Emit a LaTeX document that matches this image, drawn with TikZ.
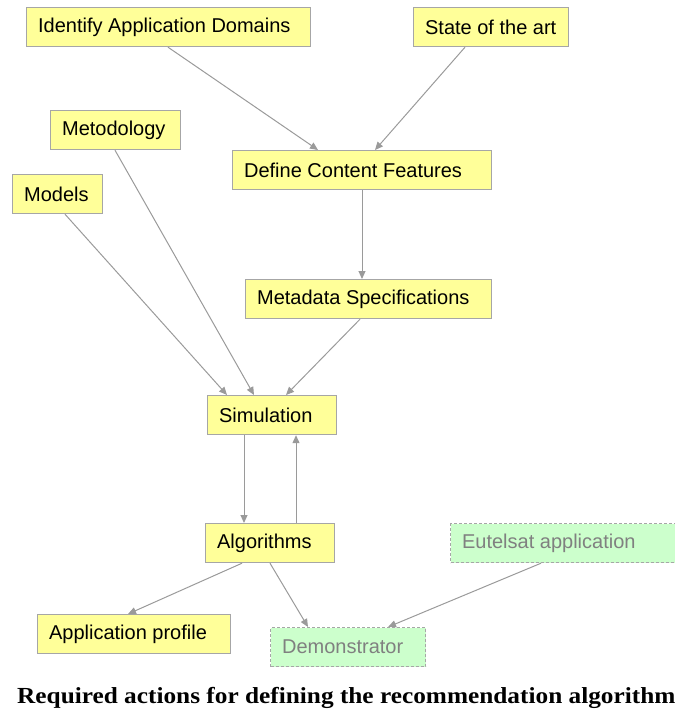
\documentclass[tikz,border=0pt]{standalone}
\usepackage{fontspec}
\setmainfont{Liberation Sans}
\newfontfamily\capfont{Liberation Serif}
\usetikzlibrary{arrows.meta}
\definecolor{boxfill}{HTML}{FFFF99}
\definecolor{boxline}{HTML}{A6A6A6}
\definecolor{grnfill}{HTML}{CCFFCC}
\definecolor{grntext}{HTML}{808080}
\definecolor{arr}{HTML}{9A9A9A}
\newcommand{\bx}[2]{\makebox[#1][l]{#2}}
\tikzset{
  ybox/.style={draw=boxline, line width=1.2pt, fill=boxfill, anchor=north west,
    minimum height=39pt, inner xsep=11.5pt, inner ysep=0pt,
    font=\fontsize{20}{24}\selectfont, text=black},
  gbox/.style={ybox, draw=boxline, dashed, dash pattern=on 3pt off 2pt, fill=grnfill, text=grntext},
  conn/.style={draw=arr, line width=1pt, -{Triangle[length=8pt,width=7pt]}}
}
\begin{document}
\begin{tikzpicture}[x=1pt,y=-1pt]
\useasboundingbox (0,0) rectangle (674,711);
\node[ybox] (ident) at (26,7) {\bx{261pt}{Identify Application Domains}};
\node[ybox] (state) at (413,7) {\bx{132pt}{State of the art}};
\node[ybox] (metod) at (50,110) {\bx{107pt}{Metodology}};
\node[ybox] (define) at (232,150) {\bx{236pt}{Define Content Features}};
\node[ybox] (models) at (12,174) {\bx{67pt}{Models}};
\node[ybox] (meta) at (245,279) {\bx{223pt}{Metadata Specifications}};
\node[ybox] (sim) at (207,395) {\bx{106pt}{Simulation}};
\node[ybox] (algo) at (205,523) {\bx{106pt}{Algorithms}};
\node[gbox] (eut) at (450,523) {\bx{203pt}{Eutelsat application}};
\node[ybox] (prof) at (37,614) {\bx{170pt}{Application profile}};
\node[gbox] (demo) at (270,627) {\bx{132pt}{Demonstrator}};

\draw[conn] ([xshift=142pt]ident.south west) -- ([xshift=86pt]define.north west);
\draw[conn] ([xshift=52pt]state.south west) -- ([xshift=143pt]define.north west);
\draw[conn] ([xshift=130pt]define.south west) -- ([xshift=117pt]meta.north west);
\draw[conn] ([xshift=53pt]models.south west) -- ([xshift=20pt]sim.north west);
\draw[conn] ([xshift=65pt]metod.south west) -- ([xshift=47pt]sim.north west);
\draw[conn] ([xshift=115pt]meta.south west) -- ([xshift=79pt]sim.north west);
\draw[conn] ([xshift=37pt]sim.south west) -- ([xshift=39pt]algo.north west);
\draw[conn] ([xshift=91pt]algo.north west) -- ([xshift=89pt]sim.south west);
\draw[conn] ([xshift=37pt]algo.south west) -- ([xshift=91pt]prof.north west);
\draw[conn] ([xshift=65pt]algo.south west) -- ([xshift=38pt]demo.north west);
\draw[conn] ([xshift=91pt]eut.south west) -- ([xshift=118pt]demo.north west);

\node[anchor=base west, inner sep=0pt, font=\capfont\bfseries\fontsize{23}{27}\selectfont] (cap) at (17,703)
  {\scalebox{1.1}[1]{Required actions for defining the recommendation algorithms}};
\end{tikzpicture}
\end{document}
